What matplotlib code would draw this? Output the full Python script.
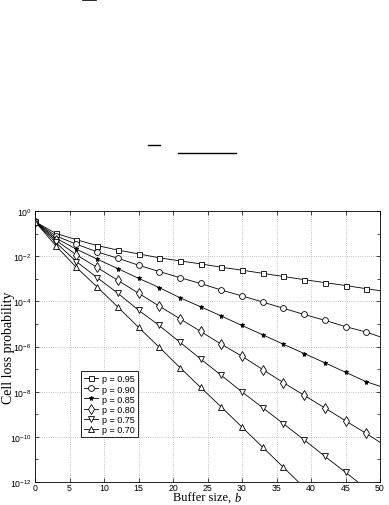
import numpy as np
import matplotlib
matplotlib.use("Agg")
import matplotlib.pyplot as plt
from matplotlib.lines import Line2D
from matplotlib.ticker import FixedLocator, FuncFormatter

plt.rcParams["mathtext.fontset"] = "custom"
plt.rcParams["mathtext.rm"] = "Liberation Sans"
plt.rcParams["font.family"] = ["Liberation Sans", "DejaVu Sans"]

# Buffer sizes at markers (every 3) plus the end of the axis
b_vals = [0, 3, 6, 9, 12, 15, 18, 21, 24, 27, 30, 33, 36, 39, 42, 45, 48, 50]

# -log10 of cell loss probability
neg_log_p95 = [0.47, 0.99, 1.27, 1.53, 1.73, 1.90, 2.07, 2.21, 2.34, 2.49, 2.62, 2.76, 2.90, 3.04, 3.17, 3.30, 3.44, 3.53]
neg_log_p90 = [0.47, 1.10, 1.47, 1.81, 2.09, 2.40, 2.68, 2.95, 3.21, 3.50, 3.76, 4.03, 4.31, 4.58, 4.84, 5.12, 5.36, 5.57]
neg_log_p85 = [0.47, 1.20, 1.69, 2.13, 2.55, 2.98, 3.39, 3.84, 4.24, 4.65, 5.07, 5.48, 5.90, 6.31, 6.72, 7.14, 7.56, 7.76]
neg_log_p80 = [0.47, 1.29, 1.94, 2.50, 3.07, 3.64, 4.21, 4.77, 5.33, 5.90, 6.43, 7.02, 7.60, 8.16, 8.72, 9.29, 9.85, 10.24]
neg_log_p75 = [0.47, 1.39, 2.24, 2.95, 3.64, 4.39, 5.07, 5.81, 6.55, 7.28, 8.01, 8.71, 9.42, 10.13, 10.86, 11.57, 12.29, 12.77]
neg_log_p70 = [0.47, 1.53, 2.50, 3.36, 4.25, 5.15, 6.03, 6.93, 7.81, 8.68, 9.57, 10.46, 11.35, 12.24, 13.13, 14.02, 14.91, 15.50]

labels = ["p = 0.95", "p = 0.90", "p = 0.85", "p = 0.80", "p = 0.75", "p = 0.70"]
series = [neg_log_p95, neg_log_p90, neg_log_p85, neg_log_p80, neg_log_p75, neg_log_p70]
markers = ["s", "o", "*", "d", "v", "^"]
msizes = [3.6, 4.2, 3.6, 4.6, 4.4, 4.4]

fig = plt.figure(figsize=(3.89, 5.06), dpi=100)
ax = fig.add_axes([35/389, 23/506, 345/389, 271/506])

b = np.array(b_vals)
for vals, lab, m, ms in zip(series, labels, markers, msizes):
    y = 10.0 ** (-np.array(vals))
    ax.semilogy(b, y, color="black", lw=0.6, marker=m, ms=ms,
                mfc="white" if m != "*" else "black", mec="black", mew=0.6,
                markevery=list(range(len(b) - 1)), label=lab, clip_on=True)

ax.set_xlim(0, 50)
ax.set_ylim(1e-12, 1)
ax.xaxis.set_major_locator(FixedLocator(np.arange(0, 51, 5)))
ax.yaxis.set_major_locator(FixedLocator([10.0 ** -k for k in range(0, 13, 2)]))
ax.yaxis.set_minor_locator(FixedLocator([10.0 ** -k for k in range(1, 13, 2)]))
ax.yaxis.set_minor_formatter(FuncFormatter(lambda v, p: ""))
ax.yaxis.set_major_formatter(FuncFormatter(lambda v, p: r"$\mathregular{10^{%d}}$" % int(round(np.log10(v)))))
ax.tick_params(which="both", direction="in", top=True, right=True, labelsize=6.3)
ax.tick_params(axis="x", pad=0.5)
ax.tick_params(axis="y", pad=2.5)
ax.tick_params(which="major", length=3, width=0.5)
ax.tick_params(which="minor", length=2, width=0.5)
ax.grid(True, which="major", ls=":", lw=0.6, color="#b0b0b0")
for s in ax.spines.values():
    s.set_linewidth(0.6)

ax.set_xlabel("Buffer size, ", fontfamily="Liberation Serif", fontsize=9)
ax.set_ylabel("Cell loss probability", fontfamily="Liberation Serif", fontsize=10)
ax.xaxis.set_label_coords(0.49, -0.037)
ax.xaxis.label.set_va("top")
ax.annotate("b", xy=(1, 0), xycoords=ax.xaxis.label, ha="left", va="bottom",
            fontfamily="Liberation Serif", fontstyle="italic", fontsize=9)
ax.yaxis.set_label_coords(-0.078, 0.5)
ax.yaxis.label.set_va("center")

leg = ax.legend(loc="lower left", bbox_to_anchor=(0.133, 0.166),
                prop={"family": "Liberation Sans", "size": 6.5},
                handlelength=1.6, handletextpad=0.4, labelspacing=0.12,
                borderpad=0.35, fancybox=False, edgecolor="black", framealpha=1,
                borderaxespad=0)
leg.get_frame().set_linewidth(0.6)

# fragments of equations cropped at the top of the page
fig.add_artist(Line2D([83/389, 96/389], [1 - 1/506, 1 - 1/506], color="black", lw=1.2))
fig.add_artist(Line2D([148/389, 160/389], [1 - 146/506, 1 - 146/506], color="black", lw=1.0))
fig.add_artist(Line2D([178/389, 236/389], [1 - 154/506, 1 - 154/506], color="black", lw=1.0))

fig.savefig("out.png", dpi=100)
